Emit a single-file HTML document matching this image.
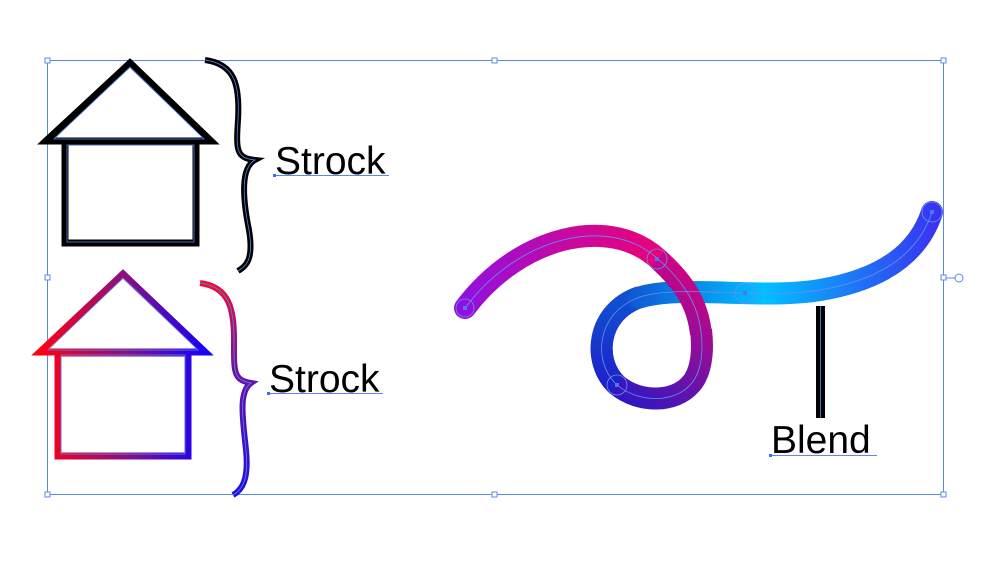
<!DOCTYPE html>
<html><head><meta charset="utf-8"><style>
html,body{margin:0;padding:0;background:#fff;width:999px;height:561px;overflow:hidden}
svg text{font-family:"Liberation Sans",sans-serif}
</style></head><body>
<svg width="999" height="561" viewBox="0 0 999 561" xmlns="http://www.w3.org/2000/svg">
<defs>
<linearGradient id="rb" gradientUnits="userSpaceOnUse" x1="40" y1="0" x2="210" y2="0">
<stop offset="0" stop-color="#ff0010"/><stop offset="0.5" stop-color="#8a1080"/><stop offset="1" stop-color="#1000ff"/></linearGradient>
<linearGradient id="br" gradientUnits="userSpaceOnUse" x1="0" y1="282" x2="0" y2="495">
<stop offset="0" stop-color="#f01030"/><stop offset="0.4" stop-color="#7010a0"/><stop offset="1" stop-color="#2010e0"/></linearGradient>
<linearGradient id="g1" gradientUnits="userSpaceOnUse" x1="460" y1="0" x2="680" y2="0">
<stop offset="0" stop-color="#9010e0"/><stop offset="0.5" stop-color="#c808a0"/><stop offset="1" stop-color="#f00070"/></linearGradient>
<linearGradient id="g2" gradientUnits="userSpaceOnUse" x1="710" y1="260" x2="600" y2="400">
<stop offset="0" stop-color="#e8007a"/><stop offset="0.5" stop-color="#8010a0"/><stop offset="1" stop-color="#2018c8"/></linearGradient>
<linearGradient id="g4" gradientUnits="userSpaceOnUse" x1="0" y1="300" x2="0" y2="400">
<stop offset="0" stop-color="#1050d0"/><stop offset="1" stop-color="#2018c8"/></linearGradient>
<linearGradient id="g3" gradientUnits="userSpaceOnUse" x1="620" y1="0" x2="940" y2="0">
<stop offset="0" stop-color="#1050d0"/><stop offset="0.45" stop-color="#00c0ff"/><stop offset="1" stop-color="#3a30f0"/></linearGradient>
</defs>
<rect x="47.5" y="60.5" width="896" height="434" fill="none" stroke="#5a88f0" stroke-width="1"/>
<g fill="#fff" stroke="#5a88f0" stroke-width="1">
<rect x="45" y="58" width="5" height="5"/><rect x="492" y="58" width="5" height="5"/><rect x="941" y="58" width="5" height="5"/>
<rect x="45" y="275" width="5" height="5"/><rect x="941" y="275" width="5" height="5"/>
<rect x="45" y="492" width="5" height="5"/><rect x="492" y="492" width="5" height="5"/><rect x="941" y="492" width="5" height="5"/>
<line x1="946" y1="278" x2="955" y2="278"/><circle cx="959" cy="278" r="4"/>
</g>
<g fill="none" stroke="#000" stroke-width="7">
<path d="M46,141 L130,63 L211,141 Z" stroke-linejoin="miter"/>
<rect x="65" y="142" width="131" height="101"/>
</g>
<g fill="none" stroke="#5a88f0" stroke-width="0.8">
<path d="M54,139 L130,67 L204,139 Z"/><rect x="67" y="145" width="127" height="97"/>
</g>
<g fill="none" stroke="url(#rb)" stroke-width="7">
<path d="M40,352 L123,274 L205,352 Z"/>
<rect x="58" y="353" width="130" height="103"/>
</g>
<g fill="none" stroke="#5a88f0" stroke-width="0.8">
<path d="M48,350 L123,278 L198,350 Z"/><rect x="61" y="355" width="124" height="99"/>
</g>
<path d="M205,60 C235,64 240,85 238,120 C236,150 236,158 255,160 C240,168 243,200 249,230 C254,260 246,266 238,271" fill="none" stroke="#000" stroke-width="6"/>
<path d="M205,60 C235,64 240,85 238,120 C236,150 236,158 255,160 C240,168 243,200 249,230 C254,260 246,266 238,271" fill="none" stroke="#5a88f0" stroke-width="0.8"/>
<path d="M200,283 C230,287 234,310 234,340 C234,372 233,380 251,383 C238,392 243,420 246,450 C249,480 242,490 233,495" fill="none" stroke="url(#br)" stroke-width="6"/>
<path d="M200,283 C230,287 234,310 234,340 C234,372 233,380 251,383 C238,392 243,420 246,450 C249,480 242,490 233,495" fill="none" stroke="#5a88f0" stroke-width="0.8"/>
<text x="275" y="174" font-size="39" fill="#000">Strock</text>
<line x1="274" y1="175.5" x2="389" y2="175.5" stroke="#5a88f0" stroke-width="1"/><rect x="273" y="174" width="3" height="3" fill="#3a70f0"/>
<text x="269" y="392" font-size="39" fill="#000">Strock</text>
<line x1="268" y1="393.5" x2="383" y2="393.5" stroke="#5a88f0" stroke-width="1"/><rect x="267" y="392" width="3" height="3" fill="#3a70f0"/>
<text x="771" y="453" font-size="39" fill="#000">Blend</text>
<line x1="770" y1="455.5" x2="877" y2="455.5" stroke="#5a88f0" stroke-width="1"/><rect x="769" y="454" width="3" height="3" fill="#3a70f0"/>
<rect x="816" y="306" width="9" height="112" fill="#000"/>
<line x1="820.5" y1="306" x2="820.5" y2="418" stroke="#5a88f0" stroke-width="0.8"/>
<path d="M701,330 C704,355 700,375 690,385 C675,402 640,404 617,385 C592,362 596,312 640,297" fill="none" stroke="url(#g2)" stroke-width="22"/>
<path d="M617,385 C592,362 596,312 640,297" fill="none" stroke="url(#g4)" stroke-width="22"/>
<path d="M638,298 C680,284 760,300 820,290 C880,280 918,255 932,212" fill="none" stroke="url(#g3)" stroke-width="22" stroke-linecap="round"/>
<path d="M465,308 C520,235 610,215 658,259" fill="none" stroke="url(#g1)" stroke-width="22" stroke-linecap="round"/>
<path d="M658,259 C685,283 698,305 701,334" fill="none" stroke="url(#g2)" stroke-width="22"/>
<g fill="none" stroke="#6a90f0" stroke-width="0.8">
<path d="M465,308 C520,235 610,215 658,259 C685,283 698,305 701,332 C704,355 700,375 690,385 C675,402 640,404 617,385 C592,362 596,312 640,297 C680,284 760,300 820,290 C880,280 918,255 932,212"/>
<circle cx="465" cy="308" r="9"/><circle cx="657" cy="259" r="10"/><circle cx="617" cy="385" r="10"/><circle cx="745" cy="293" r="10"/><circle cx="932" cy="212" r="10"/>
</g>
<g fill="#4a78f0">
<rect x="463" y="306" width="4" height="4"/><rect x="655" y="257" width="4" height="4"/><rect x="615" y="383" width="4" height="4"/><rect x="743" y="291" width="4" height="4"/><rect x="930" y="210" width="4" height="4"/>
</g>
</svg>
</body></html>
